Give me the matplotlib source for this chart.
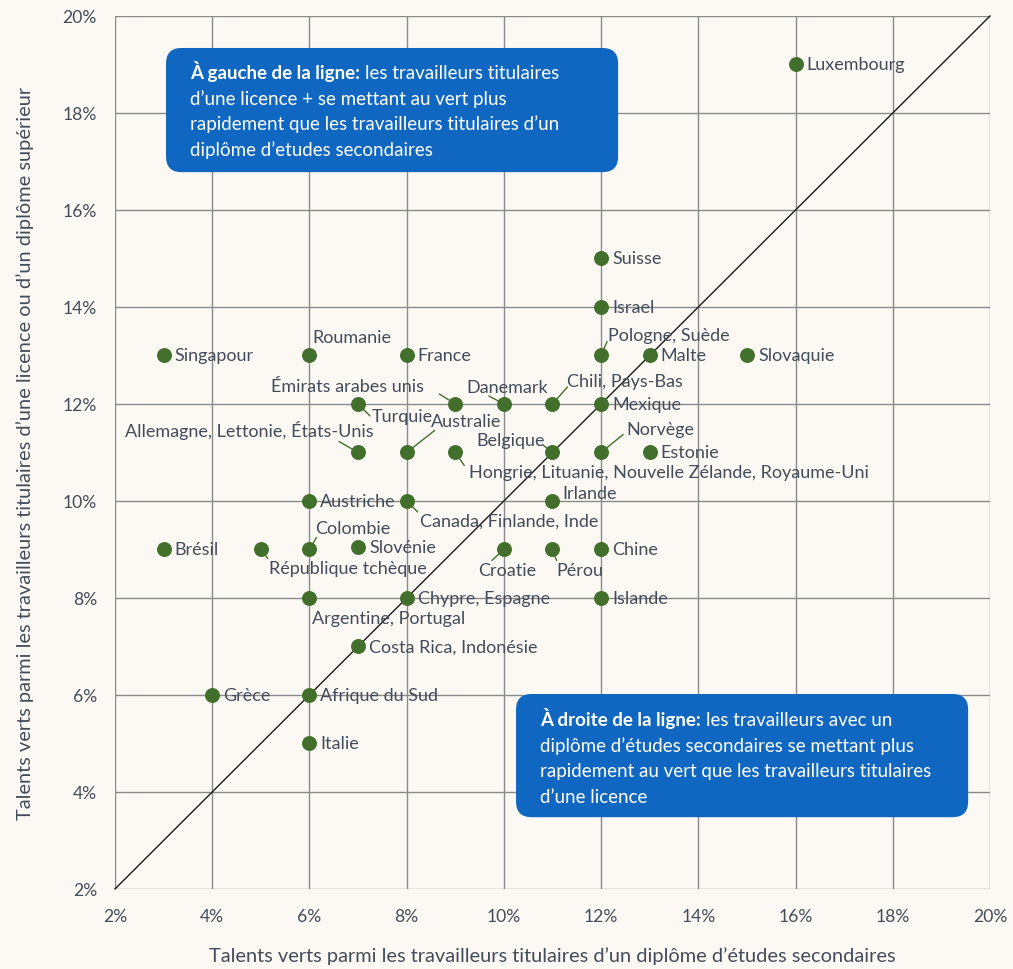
import matplotlib.pyplot as plt
from matplotlib.patches import FancyBboxPatch

plt.rcParams['font.family'] = ['Lato', 'DejaVu Sans']

# Part des talents verts (%) selon le niveau d'études
pays = ['Luxembourg', 'Suisse', 'Israel', 'Pologne, Suède', 'Malte', 'Slovaquie',
        'Singapour', 'Roumanie', 'France', 'Émirats arabes unis', 'Turquie',
        'Danemark', 'Chili, Pays-Bas', 'Mexique', 'Allemagne, Lettonie, États-Unis',
        'Australie', 'Hongrie, Lituanie, Nouvelle Zélande, Royaume-Uni', 'Belgique',
        'Norvège', 'Estonie', 'Irlande', 'Austriche', 'Canada, Finlande, Inde',
        'Colombie', 'Slovénie', 'Brésil', 'République tchèque', 'Croatie', 'Pérou',
        'Chine', 'Argentine, Portugal', 'Chypre, Espagne', 'Islande',
        'Costa Rica, Indonésie', 'Grèce', 'Afrique du Sud', 'Italie']
secondaire = [16, 12, 12, 12, 13, 15,
              3, 6, 8, 9, 7,
              10, 11, 12, 7,
              8, 9, 11,
              12, 13, 11, 6, 8,
              6, 7, 3, 5, 10, 11,
              12, 6, 8, 12,
              7, 4, 6, 6]
superieur = [19, 15, 14, 13, 13, 13,
             13, 13, 13, 12, 12,
             12, 12, 12, 11,
             11, 11, 11,
             11, 11, 10, 10, 10,
             9, 9.05, 9, 9, 9, 9,
             9, 8, 8, 8,
             7, 6, 6, 5]
graduations = [2, 4, 6, 8, 10, 12, 14, 16, 18, 20]

# placement des étiquettes : décalage (px), alignement, bout du trait de rappel
placement = {
    'Pologne, Suède': (7, 20, 'left', (6, 14)),
    'Roumanie': (3, 18, 'left', None),
    'Émirats arabes unis': (-31, 18, 'right', (-16, 10)),
    'Turquie': (14, -12, 'left', (12, -12)),
    'Danemark': (-38, 17, 'left', (-15, 8)),
    'Chili, Pays-Bas': (15, 23, 'left', (15, 17)),
    'Allemagne, Lettonie, États-Unis': (16, 23, 'right', (-19, 11)),
    'Australie': (24, 31, 'left', (28, 22)),
    'Hongrie, Lituanie, Nouvelle Zélande, Royaume-Uni': (14, -20, 'left', (9, -13)),
    'Belgique': (-8, 12, 'right', (-9, 7)),
    'Norvège': (25, 23, 'left', (22, 18)),
    'Irlande': (10, 8, 'left', None),
    'Canada, Finlande, Inde': (13, -20, 'left', (11, -11)),
    'Colombie': (6, 21, 'left', (7, 12)),
    'République tchèque': (8, -19, 'left', (7, -9)),
    'Croatie': (-26, -21, 'left', (-12, -11)),
    'Pérou': (4, -21, 'left', (4, -11)),
    'Argentine, Portugal': (3, -20, 'left', None),
}

vert = '#426f2b'
gris_texte = '#434c5a'
bleu = '#0f67c2'
fond = '#fcf9f4'
taille_pays = 13
taille_encadre = 13.5

fig = plt.figure(figsize=(10.13, 9.70), dpi=100, facecolor=fond)
ax = fig.add_axes([0.1135, 0.0825, 0.8638, 0.9], facecolor=fond)

ax.set_xlim(2, 20)
ax.set_ylim(2, 20)
ax.set_xticks(graduations)
ax.set_yticks(graduations)
ax.set_xticklabels([f'{g}%' for g in graduations])
ax.set_yticklabels([f'{g}%' for g in graduations])
ax.tick_params(length=0, labelsize=12.6, labelcolor=gris_texte)
ax.tick_params(axis='x', pad=14)
ax.tick_params(axis='y', pad=13)
for s in ax.spines.values():
    s.set_visible(False)
ax.grid(True, color='#8a8a8a', lw=1)
ax.set_axisbelow(True)

# diagonale d'égalité
ax.plot([2, 20], [2, 20], color='#1a1a1a', lw=1, zorder=2, clip_on=False)

ax.scatter(secondaire, superieur, s=95, color=vert, zorder=4, clip_on=False)

for nom, x, y in zip(pays, secondaire, superieur):
    dx, dy, ha, trait = placement.get(nom, (11, 0, 'left', None))
    if trait is not None:
        ax.annotate('', xy=(x, y), xytext=trait, textcoords='offset pixels',
                    arrowprops=dict(arrowstyle='-', color=vert, lw=1,
                                    shrinkA=0, shrinkB=0), zorder=3)
    ax.annotate(nom, xy=(x, y), xytext=(dx, dy), textcoords='offset pixels',
                ha=ha, va='center', fontsize=taille_pays, color=gris_texte, zorder=5)

ax.set_xlabel('Talents verts parmi les travailleurs titulaires d’un diplôme d’études secondaires',
              fontsize=14.4, color=gris_texte)
ax.set_ylabel('Talents verts parmi les travailleurs titulaires d’une licence ou d’un diplôme supérieur',
              fontsize=14.4, color=gris_texte)
ax.xaxis.set_label_coords(0.5, -0.066)
ax.yaxis.set_label_coords(-0.092, 0.5)


def encadre(x0, x1, y0, y1, xt, yt, gras, suite, lignes):
    ax.add_patch(FancyBboxPatch((x0, y0), x1 - x0, y1 - y0,
                                boxstyle='round,pad=0,rounding_size=0.32',
                                fc=bleu, ec='none', zorder=6))
    t = ax.text(xt, yt, gras, fontweight='bold', fontsize=taille_encadre, color='white',
                va='baseline', zorder=7)
    fig.canvas.draw()
    largeur = t.get_window_extent().width
    ax.annotate(suite, xy=(xt, yt), xytext=(largeur + 5, 0), textcoords='offset pixels',
                fontsize=taille_encadre, color='white', va='baseline', zorder=7)
    for i, ligne in enumerate(lignes, start=1):
        ax.annotate(ligne, xy=(xt, yt), xytext=(0, -25.5 * i), textcoords='offset pixels',
                    fontsize=taille_encadre, color='white', va='baseline', zorder=7)


encadre(3.05, 12.35, 16.78, 19.34, 3.54, 18.72,
        'À gauche de la ligne:', 'les travailleurs titulaires',
        ['d’une licence + se mettant au vert plus',
         'rapidement que les travailleurs titulaires d’un',
         'diplôme d’etudes secondaires'])
encadre(10.25, 19.55, 3.48, 6.02, 10.745, 5.38,
        'À droite de la ligne:', 'les travailleurs avec un',
        ['diplôme d’études secondaires se mettant plus',
         'rapidement au vert que les travailleurs titulaires',
         'd’une licence'])

fig.savefig('out.png', dpi=100, facecolor=fond)
